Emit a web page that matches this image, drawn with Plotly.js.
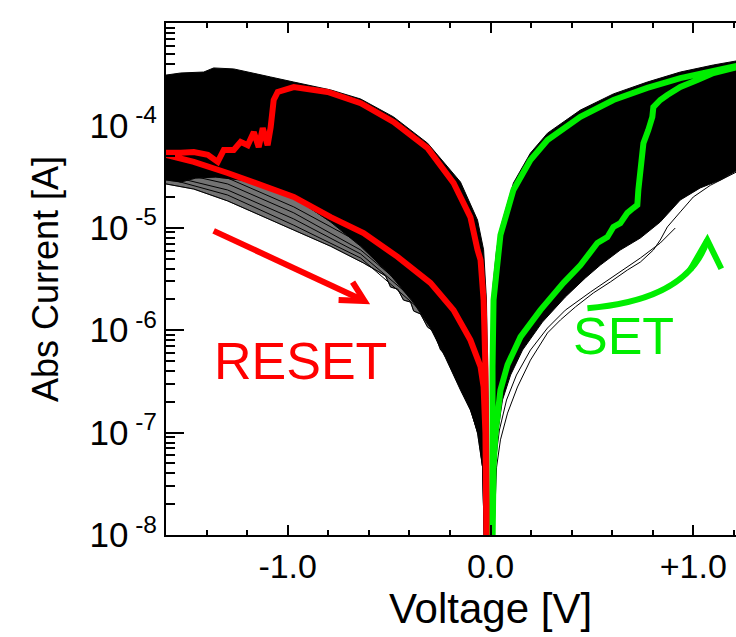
<!DOCTYPE html>
<html>
<head>
<meta charset="utf-8">
<script src="https://cdn.plot.ly/plotly-3.0.1.min.js"></script>
<style>
html,body{margin:0;padding:0;overflow:hidden;background:#fff;}
#chart{width:830px;height:637px;}
</style>
</head>
<body>
<div id="chart"></div>
<script>
// ---- RESET sweep (red, highlighted cycle): LRS branch -> reset -> HRS return
const redV = [-0.015,-0.020,-0.025,-0.034,-0.049,-0.064,-0.099,-0.182,-0.310,-0.478,-0.640,-0.803,-0.970,-1.049,-1.069,-1.084,-1.099,-1.123,-1.143,-1.167,-1.197,-1.232,-1.266,-1.315,-1.345,-1.394,-1.463,-1.527,-1.600,
              -1.600,-1.463,-1.296,-1.133,-0.970,-0.788,-0.626,-0.458,-0.296,-0.182,-0.099,-0.049,-0.034,-0.025,-0.020];
const redI = [8e-9,9.9e-8,4.4e-7,1.97e-6,4.85e-6,6.1e-6,1.27e-5,2.74e-5,6.0e-5,1.08e-4,1.65e-4,2.12e-4,2.37e-4,2.12e-4,1.77e-4,9.6e-5,6.4e-5,9.4e-5,6.15e-5,8.6e-5,6.4e-5,6.9e-5,5.75e-5,5.75e-5,4.4e-5,5.15e-5,5.5e-5,5.4e-5,5.4e-5,
              5.15e-5,4.4e-5,3.43e-5,2.62e-5,2.0e-5,1.27e-5,8.9e-6,5.2e-6,2.9e-6,1.57e-6,8.0e-7,4.4e-7,2.8e-7,9.9e-8,8e-9];

// ---- SET sweep (green, highlighted cycle): HRS branch -> set -> LRS return
const greenV = [0.010,0.015,0.025,0.049,0.084,0.148,0.246,0.360,0.443,0.527,0.576,0.606,0.640,0.675,0.704,0.724,0.729,0.739,0.754,0.778,0.798,0.803,0.837,0.872,0.936,1.020,1.099,1.212,
                1.212,1.099,0.936,0.773,0.606,0.443,0.281,0.197,0.113,0.049,0.020,0.015,0.010,0.010,0.010];
const greenI = [8e-9,4.6e-8,9.9e-8,2.6e-7,4.6e-7,8.6e-7,1.57e-6,2.9e-6,4.3e-6,7.1e-6,8.1e-6,1.02e-5,1.11e-5,1.40e-5,1.56e-5,1.67e-5,2.34e-5,3.9e-5,6.7e-5,9.0e-5,1.21e-4,1.51e-4,1.77e-4,1.98e-4,2.37e-4,2.77e-4,3.25e-4,3.7e-4,
                3.8e-4,3.4e-4,2.9e-4,2.32e-4,1.77e-4,1.21e-4,7.2e-5,4.6e-5,2.34e-5,8.5e-6,2.9e-6,1.97e-6,4.4e-7,9.9e-8,8e-9];

// ---- envelope of the dense bundle of all cycles, negative bias
const negTopV = [-1.600,-1.527,-1.414,-1.365,-1.266,-1.167,-1.084,-0.970,-0.887,-0.788,-0.640,-0.478,-0.310,-0.148,-0.064,-0.034,-0.020,-0.012,-0.010];
const negTopI = [3.1e-4,3.25e-4,3.32e-4,3.64e-4,3.56e-4,3.25e-4,2.97e-4,2.65e-4,2.43e-4,2.22e-4,1.81e-4,1.21e-4,6.7e-5,2.8e-5,1.19e-5,6.1e-6,1.97e-6,2.1e-7,8e-9];
const negBotV = [-1.600,-1.527,-1.453,-1.355,-1.232,-1.084,-0.936,-0.788,-0.640,-0.493,-0.379,-0.296,-0.222,-0.148,-0.099,-0.059,-0.039,-0.030];
const negBotI = [2.93e-5,2.8e-5,3.06e-5,3.13e-5,2.93e-5,2.39e-5,1.79e-5,1.14e-5,6.6e-6,3.46e-6,1.85e-6,1.05e-6,5.4e-7,2.6e-7,1.66e-7,9.5e-8,4.6e-8,8e-9];

// ---- envelope of the dense bundle, positive bias
const posTopV = [0.000,0.0025,0.005,0.010,0.030,0.049,0.113,0.197,0.281,0.443,0.606,0.773,0.936,1.099,1.212];
const posTopI = [8e-9,1.33e-7,1.0e-6,2.47e-6,6.1e-6,9.95e-6,2.74e-5,5.37e-5,8.4e-5,1.41e-4,2.03e-4,2.65e-4,3.32e-4,3.89e-4,4.26e-4];
const posBotV = [0.010,0.020,0.034,0.059,0.099,0.158,0.256,0.369,0.468,0.542,0.640,0.739,0.837,0.936,1.034,1.133,1.212];
const posBotI = [8e-9,4.3e-8,9.5e-8,2.08e-7,3.65e-7,6.4e-7,1.2e-6,2.11e-6,3.24e-6,4.33e-6,6.07e-6,7.95e-6,1.14e-5,1.87e-5,2.45e-5,2.93e-5,3.6e-5];

// ---- individual outlying cycles (thin black)
const n1V = [-1.600,-1.463,-1.296,-1.133,-0.970,-0.788,-0.626,-0.557,-0.517,-0.493,-0.458,-0.429,-0.394,-0.379,-0.345,-0.310,-0.281,-0.246,-0.212,-0.187,-0.163,-0.133,-0.099,-0.064,-0.039,-0.030];
const n1I = [2.68e-5,2.39e-5,1.83e-5,1.33e-5,9.5e-6,6.6e-6,4.53e-6,3.78e-6,3.38e-6,2.64e-6,2.52e-6,1.97e-6,1.88e-6,1.54e-6,1.44e-6,1.07e-6,9.8e-7,6.4e-7,5.6e-7,4.0e-7,3.33e-7,2.6e-7,1.74e-7,9.9e-8,4.6e-8,8e-9];
const nSparseV = [-1.600,-1.296,-0.970,-0.640,-0.345];
const n2I = [3.66e-5,2.68e-5,1.40e-5,6.07e-6,1.97e-6];
const n3I = [3.28e-5,2.34e-5,1.22e-5,5.55e-6,1.76e-6];
const n4I = [4.1e-5,3.06e-5,1.6e-5,7.1e-6,2.36e-6];
const n5I = [3.06e-5,2.09e-5,1.06e-5,5.07e-6,1.57e-6];
const p1V = [0.015,0.030,0.049,0.084,0.133,0.197,0.281,0.345,0.419,0.507,0.591,0.675,0.739,0.803,0.837,0.872,0.936,1.000,1.084,1.197,1.212];
const p1I = [8e-9,4.6e-8,8.5e-8,1.55e-7,2.79e-7,5.1e-7,9.4e-7,1.26e-6,1.69e-6,2.31e-6,2.96e-6,3.87e-6,4.63e-6,6.07e-6,7.6e-6,1.02e-5,1.43e-5,2.0e-5,2.6e-5,3.4e-5,3.5e-5];
const p2V = [0.015,0.025,0.044,0.079,0.128,0.197,0.281,0.369,0.493,0.616,0.739,0.837,0.911];
const p2I = [8e-9,5.4e-8,1.06e-7,2.08e-7,3.65e-7,6.4e-7,1.05e-6,1.57e-6,2.36e-6,3.46e-6,5.07e-6,7.1e-6,9.95e-6];

// ---- axis ticks
const xTickVals = [-1, 0, 1];
const xTickText = ['-1.0', '0.0', '+1.0'];
const xMinorVals = [-1.6,-1.4,-1.2,-0.8,-0.6,-0.4,-0.2,0.2,0.4,0.6,0.8,1.2,1.4,1.6];
const yTickVals = [1e-8,1e-7,1e-6,1e-5,1e-4,1e-3];
const yExponents = ['-8','-7','-6','-5','-4','-3'];
const yTickText = yExponents.map(e => '10<sup>\u00a0' + e + '</sup>');
const yMinorVals = [];
for (let e = -8; e < -3; e++) for (let m = 2; m <= 9; m++) yMinorVals.push(m * Math.pow(10, e));

const FONT = 'Liberation Sans, Arial, Helvetica, sans-serif';
const GREEN = '#00ee00';

function band(topV, topI, botV, botI, color) {
  return {
    x: topV.concat(botV.slice().reverse()),
    y: topI.concat(botI.slice().reverse()),
    mode: 'lines', fill: 'toself', fillcolor: color,
    line: {color: color, width: 1}, hoverinfo: 'skip', showlegend: false
  };
}
function thin(x, y) {
  return {x: x, y: y, mode: 'lines', line: {color: '#000', width: 1}, showlegend: false, hoverinfo: 'skip'};
}

const traces = [
  band(negBotV, negBotI, n1V, n1I, 'rgba(0,0,0,0.55)'),
  band(negTopV, negTopI, negBotV, negBotI, '#000'),
  band(posTopV, posTopI, posBotV, posBotI, '#000'),
  thin(n1V, n1I), thin(nSparseV, n2I), thin(nSparseV, n3I), thin(nSparseV, n4I), thin(nSparseV, n5I),
  thin(p1V, p1I), thin(p2V, p2I),
  {x: redV, y: redI, mode: 'lines', line: {color: '#ff0000', width: 6}, name: 'RESET', showlegend: false},
  {x: greenV, y: greenI, mode: 'lines', line: {color: GREEN, width: 6}, name: 'SET', showlegend: false}
];

const layout = {
  width: 830, height: 637,
  margin: {l: 166, r: 15, t: 23, b: 102},
  paper_bgcolor: '#fff', plot_bgcolor: '#fff',
  showlegend: false,
  font: {family: FONT, color: '#000'},
  xaxis: {
    range: [-1.6, 1.6], showgrid: false, zeroline: false,
    showline: true, linecolor: '#000', linewidth: 2, mirror: 'ticks',
    ticks: 'inside', ticklen: 10, tickwidth: 2, tickcolor: '#000',
    tickmode: 'array', tickvals: xTickVals, ticktext: xTickText,
    tickfont: {size: 34, family: FONT},
    minor: {tickmode: 'array', tickvals: xMinorVals, ticks: 'inside', ticklen: 5, tickwidth: 2, tickcolor: '#000', showgrid: false},
    title: {text: 'Voltage [V]', font: {size: 42, family: FONT}, standoff: 4}
  },
  yaxis: {
    type: 'log', range: [-8, -3], showgrid: false, zeroline: false,
    showline: true, linecolor: '#000', linewidth: 2, mirror: 'ticks',
    ticks: 'inside', ticklen: 18, tickwidth: 2, tickcolor: '#000',
    tickmode: 'array', tickvals: yTickVals, ticktext: yTickText,
    tickfont: {size: 35, family: FONT},
    minor: {tickmode: 'array', tickvals: yMinorVals, ticks: 'inside', ticklen: 9, tickwidth: 2, tickcolor: '#000', showgrid: false},
    title: {text: 'Abs Current [A]', font: {size: 36, family: FONT}, standoff: 20}
  },
  shapes: [
    {type: 'path', xref: 'x', yref: 'paper', path: 'M -1.365,0.594 L -0.621,0.457', line: {color: '#ff0000', width: 6}},
    {type: 'path', xref: 'x', yref: 'paper', path: 'M -0.680,0.494 L -0.621,0.457 L -0.749,0.459', line: {color: '#ff0000', width: 6}},
    {type: 'path', xref: 'x', yref: 'paper', path: 'M 0.478,0.443 Q 0.975,0.459 1.069,0.576', line: {color: GREEN, width: 6}},
    {type: 'path', xref: 'x', yref: 'paper', path: 'M 0.985,0.518 L 1.069,0.576 L 1.138,0.520', line: {color: GREEN, width: 6}}
  ],
  annotations: [
    {xref: 'x', yref: 'paper', x: -0.936, y: 0.340, text: 'RESET', showarrow: false, font: {size: 52, color: '#ff0000', family: FONT}},
    {xref: 'x', yref: 'paper', x: 0.655, y: 0.328, text: 'SET', showarrow: false, font: {size: 52, color: GREEN, family: FONT}}
  ]
};

Plotly.newPlot('chart', traces, layout, {displayModeBar: false, staticPlot: true});
</script>
</body>
</html>
